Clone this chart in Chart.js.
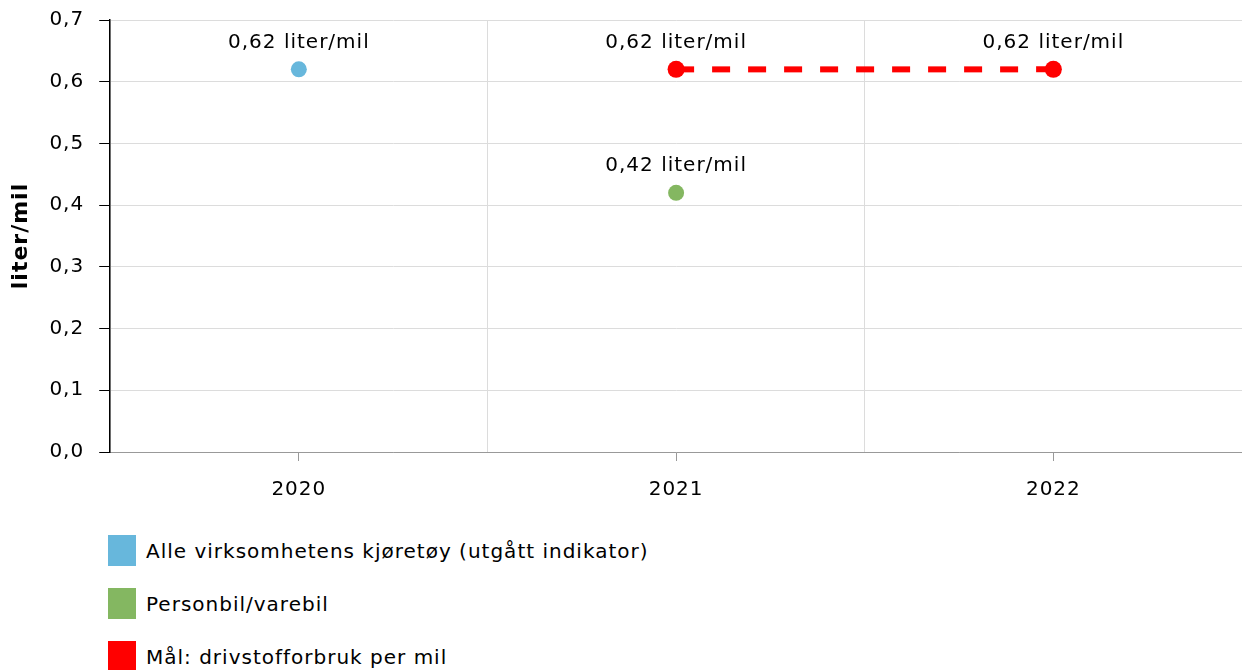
<!DOCTYPE html>
<html>
<head>
<meta charset="utf-8">
<script src="https://cdn.jsdelivr.net/npm/chart.js@4"></script>
<style>
  body { margin: 0; background: #fff; font-family: "DejaVu Sans", sans-serif; }
  #wrap { position: relative; width: 1242px; height: 670px; overflow: hidden; }
  #chart-box { position: absolute; left: 0; top: 0; width: 1242px; height: 519px; }
  #legend { position: absolute; left: 108px; top: 535px; }
  .item { display: flex; align-items: center; height: 31px; margin-bottom: 22px; font-size: 20px; letter-spacing: 1px; color: #000; }
  .box { width: 28px; height: 31px; margin-right: 10px; }
</style>
</head>
<body>
<div id="wrap">
  <div id="chart-box"><canvas id="drivstoffChart"></canvas></div>
  <div id="legend"></div>
</div>
<script>
const years = ['2020', '2021', '2022'];
const alleVerdier = [0.62, null, null];
const personbilVerdier = [null, 0.42, null];
const malVerdier = [null, 0.62, 0.62];
const seriesNames = ['Alle virksomhetens kjøretøy (utgått indikator)', 'Personbil/varebil', 'Mål: drivstofforbruk per mil'];
const seriesColors = ['#67b7dc', '#84b761', '#ff0000'];
const yMax = 0.7;
const yStep = 0.1;

const comma = (v, d) => v.toFixed(d).replace('.', ',');

// canvas text is a little wider in the original, so space the letters
const spacing = {
    id: 'spacing',
    beforeLayout(chart) { chart.ctx.letterSpacing = '1px'; },
    beforeDraw(chart) { chart.ctx.letterSpacing = '1px'; }
};

const valueLabels = {
    id: 'valueLabels',
    afterDatasetsDraw(chart) {
        const ctx = chart.ctx;
        ctx.save();
        ctx.letterSpacing = '1px';
        ctx.font = '20px "DejaVu Sans"';
        ctx.fillStyle = '#000';
        ctx.textAlign = 'center';
        ctx.textBaseline = 'middle';
        chart.data.datasets.forEach((ds, i) => {
            chart.getDatasetMeta(i).data.forEach((pt, j) => {
                if (ds.data[j] == null) return;
                ctx.fillText(comma(ds.data[j], 2) + ' liter/mil', pt.x, pt.y - 27);
            });
        });
        ctx.restore();
    }
};

const font = { family: 'DejaVu Sans', size: 20 };

new Chart(document.getElementById('drivstoffChart'), {
    type: 'line',
    data: {
        labels: years,
        datasets: [{
            label: seriesNames[0],
            data: alleVerdier,
            showLine: false,
            backgroundColor: seriesColors[0],
            borderColor: seriesColors[0],
            pointRadius: 8,
            pointBorderWidth: 0
        }, {
            label: seriesNames[1],
            data: personbilVerdier,
            showLine: false,
            backgroundColor: seriesColors[1],
            borderColor: seriesColors[1],
            pointRadius: 8,
            pointBorderWidth: 0
        }, {
            label: seriesNames[2],
            data: malVerdier,
            backgroundColor: seriesColors[2],
            borderColor: seriesColors[2],
            borderWidth: 6,
            borderDash: [18, 18],
            pointRadius: 8.5,
            pointBorderWidth: 0,
            tension: 0
        }]
    },
    options: {
        responsive: true,
        maintainAspectRatio: false,
        animation: false,
        layout: { autoPadding: false, padding: { top: 4, right: 0 } },
        scales: {
            x: {
                offset: true,
                grid: { offset: true, color: '#dcdcdc', drawTicks: false },
                border: { color: '#999' },
                ticks: { display: false }
            },
            x2: {
                type: 'category',
                labels: years,
                position: 'bottom',
                offset: true,
                grid: { offset: false, drawOnChartArea: false, tickLength: 9, color: '#999' },
                border: { display: false },
                ticks: { font: font, color: '#000', padding: 17 }
            },
            y: {
                min: 0,
                max: yMax,
                grid: { color: '#dcdcdc', tickColor: '#000', tickLength: 11 },
                border: { color: '#000', width: 1.5 },
                ticks: {
                    stepSize: yStep,
                    font: { family: 'DejaVu Sans', size: 20, lineHeight: 0.5 },
                    color: '#000',
                    padding: 15,
                    callback: v => comma(v, 1)
                },
                title: {
                    display: true,
                    text: 'liter/mil',
                    font: { family: 'DejaVu Sans', size: 22, weight: 'bold' },
                    color: '#000',
                    padding: { top: 8, bottom: 0 }
                }
            }
        },
        plugins: {
            legend: { display: false },
            tooltip: { enabled: false }
        }
    },
    plugins: [spacing, valueLabels]
});

const legend = document.getElementById('legend');
seriesNames.forEach((name, i) => {
    const item = document.createElement('div');
    item.className = 'item';
    item.innerHTML = '<span class="box" style="background:' + seriesColors[i] + '"></span>' + name;
    legend.appendChild(item);
});
</script>
</body>
</html>
